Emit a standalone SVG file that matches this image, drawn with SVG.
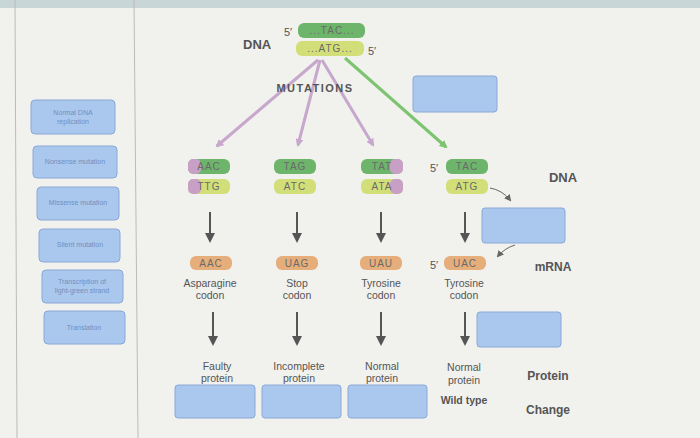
<svg xmlns="http://www.w3.org/2000/svg" width="700" height="438" viewBox="0 0 700 438">
<defs>
<style>
.t{font-family:"Liberation Sans",Arial,sans-serif;fill:#555}
.b{font-weight:bold}
.lb{fill:#aac8ee;stroke:#8aa8d6;stroke-width:1}
.g{fill:#6db56a}
.y{fill:#d2df78}
.o{fill:#e6ae7a}
.p{fill:#c8a0c6}
.ct{font-family:"Liberation Sans",Arial,sans-serif;font-size:10px;fill:#6a6a6a;text-anchor:middle;letter-spacing:1px}
.lab{font-family:"Liberation Sans",Arial,sans-serif;font-size:10.5px;fill:#555;text-anchor:middle}
.lt{font-family:"Liberation Sans",Arial,sans-serif;font-size:7px;fill:#6f8fc0;text-anchor:middle}
</style>
<marker id="ap" markerWidth="8" markerHeight="8" refX="6" refY="4" orient="auto" markerUnits="userSpaceOnUse"><path d="M0,0L8,4L0,8z" fill="#c7a7cc"/></marker>
<marker id="ag" markerWidth="8" markerHeight="8" refX="6" refY="4" orient="auto" markerUnits="userSpaceOnUse"><path d="M0,0L8,4L0,8z" fill="#7cc46f"/></marker>
<marker id="ad" markerWidth="10" markerHeight="10" refX="7" refY="5" orient="auto" markerUnits="userSpaceOnUse"><path d="M0,0L10,5L0,10z" fill="#555"/></marker>
<marker id="as" markerWidth="7" markerHeight="7" refX="5" refY="3.5" orient="auto" markerUnits="userSpaceOnUse"><path d="M0,0L7,3.5L0,7z" fill="#666"/></marker>
</defs>
<rect width="700" height="438" fill="#f1f1ee"/>
<rect x="0" y="0" width="700" height="8" fill="#c9d6d8"/>
<line x1="15" y1="0" x2="17" y2="438" stroke="#bbb"/>
<line x1="134" y1="0" x2="138" y2="438" stroke="#bbb"/>
<g id="palette">
<rect class="lb" x="31" y="100" width="84" height="34" rx="4"/><text class="lt" x="73" y="115">Normal DNA</text><text class="lt" x="73" y="124">replication</text>
<rect class="lb" x="33" y="146" width="84" height="32" rx="4"/><text class="lt" x="75" y="164">Nonsense mutation</text>
<rect class="lb" x="37" y="187" width="82" height="33" rx="4"/><text class="lt" x="78" y="205">Missense mutation</text>
<rect class="lb" x="39" y="229" width="81" height="33" rx="4"/><text class="lt" x="80" y="247">Silent mutation</text>
<rect class="lb" x="42" y="270" width="81" height="33" rx="4"/><text class="lt" x="82" y="284">Transcription of</text><text class="lt" x="82" y="293">light-green strand</text>
<rect class="lb" x="44" y="311" width="81" height="33" rx="4"/><text class="lt" x="84" y="330">Translation</text>
</g>
<g id="connectors" fill="none">
<line x1="318" y1="60" x2="217" y2="146" stroke="#c7a7cc" stroke-width="3" marker-end="url(#ap)"/>
<line x1="320" y1="60" x2="298" y2="145" stroke="#c7a7cc" stroke-width="3" marker-end="url(#ap)"/>
<line x1="322" y1="60" x2="373" y2="145" stroke="#c7a7cc" stroke-width="3" marker-end="url(#ap)"/>
<line x1="345" y1="58" x2="446" y2="147" stroke="#7cc46f" stroke-width="3" marker-end="url(#ag)"/>
<line x1="210" y1="212" x2="210" y2="240" stroke="#555" stroke-width="2" marker-end="url(#ad)"/>
<line x1="297" y1="212" x2="297" y2="240" stroke="#555" stroke-width="2" marker-end="url(#ad)"/>
<line x1="381" y1="212" x2="381" y2="240" stroke="#555" stroke-width="2" marker-end="url(#ad)"/>
<line x1="465" y1="212" x2="465" y2="240" stroke="#555" stroke-width="2" marker-end="url(#ad)"/>
<line x1="213" y1="312" x2="213" y2="343" stroke="#555" stroke-width="2" marker-end="url(#ad)"/>
<line x1="297" y1="312" x2="297" y2="343" stroke="#555" stroke-width="2" marker-end="url(#ad)"/>
<line x1="381" y1="312" x2="381" y2="343" stroke="#555" stroke-width="2" marker-end="url(#ad)"/>
<line x1="465" y1="312" x2="465" y2="343" stroke="#555" stroke-width="2" marker-end="url(#ad)"/>
<path d="M490,188 Q502,190 510,200" stroke="#666" stroke-width="1" marker-end="url(#as)"/>
<path d="M515,245 Q505,248 498,256" stroke="#666" stroke-width="1" marker-end="url(#as)"/>
</g>
<g id="top-dna">
<text class="t b" x="243" y="49" font-size="13">DNA</text>
<text class="t" x="284" y="36" font-size="11">5′</text>
<rect class="g" x="298" y="23" width="67" height="15" rx="6"/>
<text class="ct" x="332" y="34">...TAC...</text>
<rect class="y" x="296" y="41" width="68" height="15" rx="6"/>
<text class="ct" x="330" y="52">...ATG...</text>
<text class="t" x="368" y="55" font-size="11">5′</text>
<text class="t b" x="315" y="92" font-size="11" text-anchor="middle" letter-spacing="1.5">MUTATIONS</text>
</g>
<rect id="box-top" class="lb" x="413" y="76" width="84" height="36" rx="3"/>
<g id="col1">
<rect class="g" x="188" y="159" width="42" height="15" rx="6"/><rect class="p" x="188" y="159" width="13" height="15" rx="5"/>
<text class="ct" x="209" y="170">AAC</text>
<rect class="y" x="188" y="179" width="42" height="15" rx="6"/><rect class="p" x="188" y="179" width="13" height="15" rx="5"/>
<text class="ct" x="209" y="190">TTG</text>
<rect class="o" x="190" y="256" width="42" height="14" rx="6"/><text class="ct" x="211" y="267">AAC</text>
<text class="lab" x="210" y="287">Asparagine</text><text class="lab" x="210" y="299">codon</text>
<text class="lab" x="217" y="370">Faulty</text><text class="lab" x="217" y="382">protein</text>
</g>
<g id="col2">
<rect class="g" x="274" y="159" width="42" height="15" rx="6"/><text class="ct" x="295" y="170">TAG</text>
<rect class="y" x="274" y="179" width="42" height="15" rx="6"/><text class="ct" x="295" y="190">ATC</text>
<rect class="o" x="276" y="256" width="42" height="14" rx="6"/><text class="ct" x="297" y="267">UAG</text>
<text class="lab" x="297" y="287">Stop</text><text class="lab" x="297" y="299">codon</text>
<text class="lab" x="299" y="370">Incomplete</text><text class="lab" x="299" y="382">protein</text>
</g>
<g id="col3">
<rect class="g" x="361" y="159" width="42" height="15" rx="6"/><rect class="p" x="390" y="159" width="13" height="15" rx="5"/>
<text class="ct" x="382" y="170">TAT</text>
<rect class="y" x="361" y="179" width="42" height="15" rx="6"/><rect class="p" x="390" y="179" width="13" height="15" rx="5"/>
<text class="ct" x="382" y="190">ATA</text>
<rect class="o" x="360" y="256" width="42" height="14" rx="6"/><text class="ct" x="381" y="267">UAU</text>
<text class="lab" x="381" y="287">Tyrosine</text><text class="lab" x="381" y="299">codon</text>
<text class="lab" x="382" y="370">Normal</text><text class="lab" x="382" y="382">protein</text>
</g>
<g id="col4">
<text class="t" x="430" y="172" font-size="11">5′</text>
<rect class="g" x="446" y="159" width="42" height="15" rx="6"/><text class="ct" x="467" y="170">TAC</text>
<rect class="y" x="446" y="179" width="42" height="15" rx="6"/><text class="ct" x="467" y="190">ATG</text>
<text class="t" x="430" y="269" font-size="11">5′</text>
<rect class="o" x="444" y="256" width="42" height="14" rx="6"/><text class="ct" x="465" y="267">UAC</text>
<text class="lab" x="464" y="287">Tyrosine</text><text class="lab" x="464" y="299">codon</text>
<text class="lab" x="464" y="371">Normal</text><text class="lab" x="464" y="384">protein</text>
<text class="t b" x="464" y="404" font-size="10.5" text-anchor="middle">Wild type</text>
</g>
<g id="right-labels">
<text class="t b" x="563" y="182" font-size="13" text-anchor="middle">DNA</text>
<text class="t b" x="553" y="271" font-size="12" text-anchor="middle">mRNA</text>
<text class="t b" x="548" y="380" font-size="12" text-anchor="middle">Protein</text>
<text class="t b" x="548" y="414" font-size="12" text-anchor="middle">Change</text>
</g>
<g id="blanks">
<rect class="lb" x="482" y="208" width="83" height="35" rx="3"/>
<rect class="lb" x="477" y="312" width="84" height="35" rx="3"/>
<rect class="lb" x="175" y="385" width="80" height="33" rx="3"/>
<rect class="lb" x="262" y="385" width="79" height="33" rx="3"/>
<rect class="lb" x="348" y="385" width="79" height="33" rx="3"/>
</g>
</svg>
